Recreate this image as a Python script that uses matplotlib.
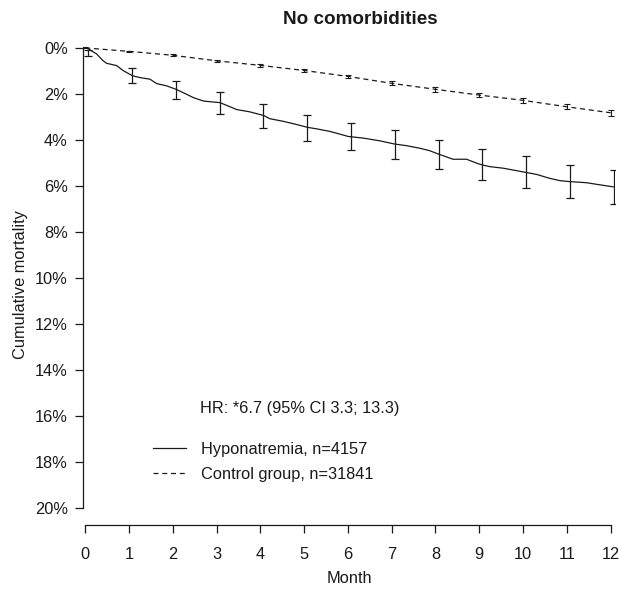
import matplotlib
matplotlib.use("Agg")
import matplotlib.pyplot as plt
import numpy as np

plt.rcParams['font.family'] = ['Liberation Sans', 'DejaVu Sans']

title = "No comorbidities"
xlabel = "Month"
ylabel = "Cumulative mortality"
hr_text = "HR: *6.7 (95% CI 3.3; 13.3)"
labels = ["Hyponatremia, n=4157", "Control group, n=31841"]

# Hyponatremia curve (month, cumulative mortality %)
hypo_t = [0.0, 0.07, 0.26, 0.41, 0.49, 0.72, 0.87, 1.08, 1.25, 1.48, 1.63, 1.86, 2.09, 2.32, 2.47,
          2.70, 2.92, 3.08, 3.31, 3.46, 3.76, 4.08, 4.22, 4.52, 4.83, 5.07, 5.29, 5.59, 6.01,
          6.35, 6.73, 7.07, 7.34, 7.64, 7.87, 8.06, 8.18, 8.40, 8.71, 8.94, 9.07, 9.24, 9.55,
          10.06, 10.31, 10.61, 10.84, 11.05, 11.45, 11.68, 12.06]
hypo_y = [0.0, 0.04, 0.26, 0.56, 0.67, 0.77, 0.99, 1.21, 1.29, 1.36, 1.55, 1.65, 1.81, 2.02, 2.16,
          2.31, 2.35, 2.38, 2.56, 2.68, 2.78, 2.94, 3.08, 3.19, 3.33, 3.45, 3.52, 3.63, 3.85,
          3.92, 4.04, 4.18, 4.25, 4.36, 4.47, 4.61, 4.69, 4.84, 4.84, 5.01, 5.09, 5.16, 5.23,
          5.41, 5.50, 5.67, 5.77, 5.81, 5.86, 5.93, 6.04]

# Error bars at months
months = list(range(13))
hypo_ci_lo = [0.10, 0.88, 1.42, 1.92, 2.44, 2.92, 3.27, 3.58, 3.99, 4.40, 4.72, 5.07, 5.32]
hypo_ci_mid = [0.22, 1.21, 1.81, 2.38, 2.94, 3.45, 3.85, 4.20, 4.62, 5.09, 5.41, 5.79, 6.04]
hypo_ci_hi = [0.36, 1.54, 2.24, 2.88, 3.49, 4.04, 4.43, 4.81, 5.26, 5.76, 6.10, 6.51, 6.78]

ctrl_y = [0.0, 0.15, 0.32, 0.56, 0.76, 0.98, 1.24, 1.54, 1.80, 2.05, 2.28, 2.56, 2.82]
ctrl_err = [0.02, 0.03, 0.04, 0.05, 0.06, 0.07, 0.08, 0.09, 0.10, 0.10, 0.11, 0.11, 0.12]

hypo_offset = 0.07
col = "#1a1a1a"
fs = 11.8

fig = plt.figure(figsize=(6.19, 5.90), dpi=100)
ax = fig.add_axes([83/619, (590-525)/590, (615-83)/619, (525-44)/590])

ax.plot(hypo_t, hypo_y, color=col, lw=0.9, label=labels[0])
ax.plot(months, ctrl_y, color=col, lw=0.9, dashes=(4, 3), label=labels[1])

hm = np.array(months) + hypo_offset
mid = np.array(hypo_ci_mid)
ax.errorbar(hm, mid, yerr=[mid - np.array(hypo_ci_lo), np.array(hypo_ci_hi) - mid],
            fmt='none', ecolor=col, elinewidth=0.9, capsize=2.6, capthick=0.9)
ax.errorbar(months, ctrl_y, yerr=ctrl_err, fmt='none', ecolor=col, elinewidth=0.8,
            capsize=2.0, capthick=0.8)

ax.set_xlim(-0.05, 12.1)
ax.set_ylim(20.74, -0.17)

for s in ['top', 'right']:
    ax.spines[s].set_visible(False)
ax.spines['left'].set_bounds(0, 20)
ax.spines['bottom'].set_bounds(0, 12)
for s in ['left', 'bottom']:
    ax.spines[s].set_color(col)
    ax.spines[s].set_linewidth(0.9)

ax.set_xticks(months)
ax.set_xticklabels([str(m) for m in months])
yt = list(range(0, 21, 2))
ax.set_yticks(yt)
ax.set_yticklabels([f"{v}%" for v in yt])
ax.tick_params(axis='both', labelsize=fs, color=col, labelcolor=col, width=0.9, length=6)
ax.tick_params(axis='x', pad=10)
ax.tick_params(axis='y', pad=5)

ax.set_xlabel(xlabel, fontsize=fs, color=col, labelpad=6)
ax.set_ylabel(ylabel, fontsize=fs, color=col, labelpad=5)
fig.text(360/619, 1 - 20/590, title, ha='center', va='center', fontsize=13.6,
         fontweight='bold', color=col)

ax.text(200/619, 1 - 408/590, hr_text, transform=fig.transFigure, fontsize=fs,
        color=col, va='center', ha='left')

leg = ax.legend(loc='upper left', bbox_to_anchor=(153/619, 1 - 442/590),
                bbox_transform=fig.transFigure, frameon=False, fontsize=fs,
                handlelength=2.0, handletextpad=0.95, labelspacing=0.62,
                borderpad=0, borderaxespad=0)
for t in leg.get_texts():
    t.set_color(col)

fig.savefig("out.png", dpi=100)
